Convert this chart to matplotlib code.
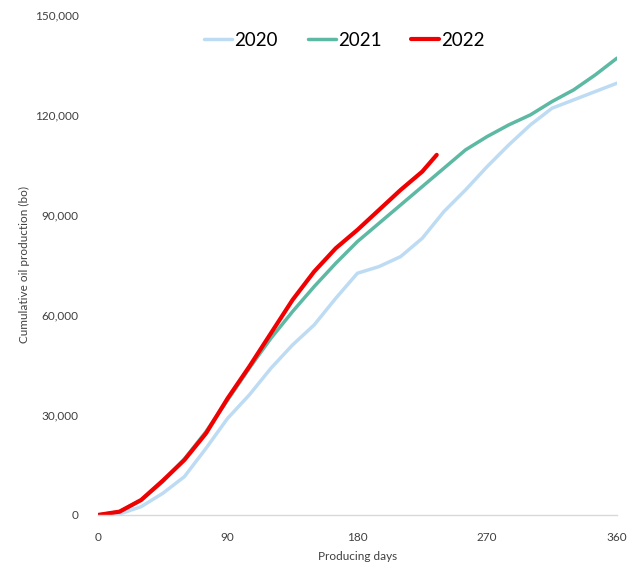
import matplotlib.pyplot as plt
from matplotlib.ticker import FuncFormatter

plt.rcParams["font.family"] = ["Lato", "DejaVu Sans"]

# cumulative oil production (bo) vs producing days
days_2020 = [0, 15, 30, 45, 60, 75, 90, 105, 120, 135, 150, 165, 180, 195, 210, 225,
             240, 255, 270, 285, 300, 315, 330, 345, 360]
oil_2020 = [0, 300, 2500, 6500, 11500, 20000, 29000, 36000, 44000, 51000, 57000, 65000,
            72500, 74500, 77500, 83000, 91000, 97500, 104500, 111000, 117000, 122000,
            124500, 127000, 129500]

days_2021 = [0, 15, 30, 45, 60, 75, 90, 105, 120, 135, 150, 165, 180, 195, 210, 225,
             240, 255, 270, 285, 300, 315, 330, 345, 360]
oil_2021 = [0, 1000, 4500, 10000, 16800, 25000, 34500, 44000, 53000, 61000, 68500, 75500,
            82000, 87500, 93000, 98500, 104000, 109500, 113500, 117000, 120000, 124000,
            127500, 132000, 137000]

days_2022 = [0, 15, 30, 45, 60, 75, 90, 105, 120, 135, 150, 165, 180, 195, 210, 225, 235]
oil_2022 = [0, 1000, 4500, 10300, 16500, 24500, 35000, 44500, 54500, 64500, 73000, 80000,
            85500, 91500, 97500, 103000, 108000]

years = ["2020", "2021", "2022"]
colors = ["#BDDCF4", "#5DB9A3", "#F00000"]
widths = [2.5, 2.5, 3.0]

x_ticks = [0, 90, 180, 270, 360]
y_ticks = [0, 30000, 60000, 90000, 120000, 150000]

fig = plt.figure(figsize=(6.44, 5.70), dpi=100)
ax = fig.add_axes([0.152, 0.0965, 0.806, 0.8775])

series = [(days_2020, oil_2020), (days_2021, oil_2021), (days_2022, oil_2022)]
for (d, v), yr, c, lw in zip(series, years, colors, widths):
    ax.plot(d, v, color=c, lw=lw, label=yr, solid_capstyle="round",
            solid_joinstyle="round")

ax.set_xlim(0, 360)
ax.set_ylim(0, 150000)
ax.set_xticks(x_ticks)
ax.set_yticks(y_ticks)
ax.yaxis.set_major_formatter(FuncFormatter(lambda v, p: f"{int(v):,}"))
ax.tick_params(length=0, labelsize=8.5, labelcolor="#404040")
ax.tick_params(axis="y", pad=14)
ax.tick_params(axis="x", pad=12)

for s in ["top", "right", "left"]:
    ax.spines[s].set_visible(False)
ax.spines["bottom"].set_color("#D9D9D9")
ax.spines["bottom"].set_linewidth(1.0)

ax.set_xlabel("Producing days", fontsize=8.5, color="#404040", labelpad=6)
ax.set_ylabel("Cumulative oil production (bo)", fontsize=8.5, color="#404040", labelpad=3)

ax.legend(loc="upper center", bbox_to_anchor=(0.475, 1.0), ncol=3, frameon=False,
          fontsize=13.5, handlelength=1.5, handletextpad=0.1, columnspacing=1.6)

fig.savefig("out.png", dpi=100, facecolor="white")
